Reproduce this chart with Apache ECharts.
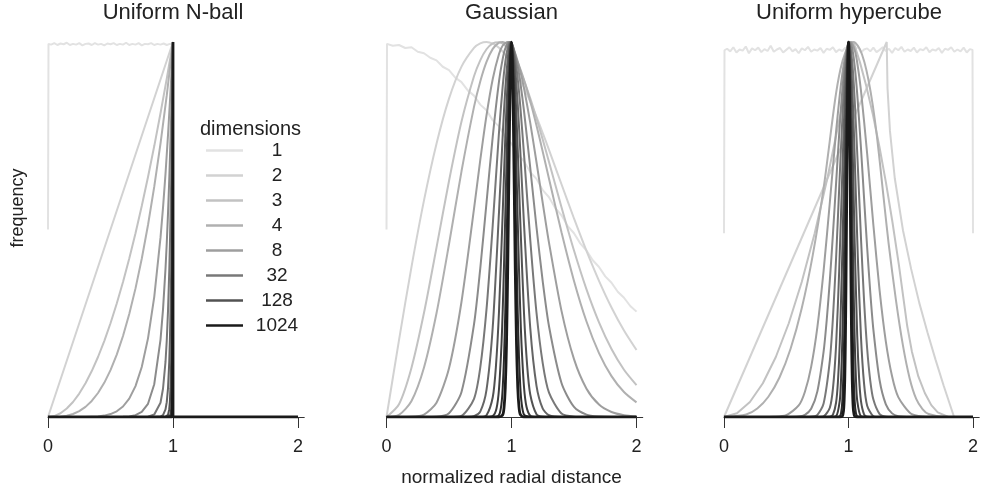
<!DOCTYPE html>
<html>
<head>
<meta charset="utf-8">
<script src="https://cdn.jsdelivr.net/npm/echarts@6/dist/echarts.min.js"></script>
<style>html,body{margin:0;padding:0;background:#fff}#c{width:981px;height:492px}</style>
</head>
<body>
<div id="c"></div>
<script>
// ---- data ----
const dims = [1, 2, 3, 4, 8, 16, 32, 64, 128, 256, 512, 1024];
const legendDims = ['1', '2', '3', '4', '8', '32', '128', '1024'];
const panelTitles = ['Uniform N-ball', 'Gaussian', 'Uniform hypercube'];
const xTicks = [0, 1, 2];
const xLabel = 'normalized radial distance';
const yLabel = 'frequency';
const legendTitle = 'dimensions';

// Uniform N-ball  [x, y]
const ballD1 = [[0,.5],[.004,.995],[.025,.993],[.05,.997],[.075,.992],[.1,.996],[.125,.994],[.15,.998],[.175,.992],[.2,.995],[.225,.993],[.25,.997],[.275,.991],[.3,.995],[.325,.996],[.35,.992],[.375,.997],[.4,.993],[.425,.995],[.45,.991],[.475,.996],[.5,.994],[.525,.997],[.55,.992],[.575,.995],[.6,.993],[.625,.998],[.65,.992],[.675,.995],[.7,.993],[.725,.997],[.75,.991],[.775,.995],[.8,.994],[.825,.997],[.85,.992],[.875,.995],[.9,.993],[.925,.996],[.95,.992],[.975,.995],[.996,.994],[1,0],[2,0]];
const ballD2 = [[0,0],[1,1],[1,0],[2,0]];
const ballD3 = [[0,0],[.05,.0025],[.1,.01],[.15,.0225],[.2,.04],[.25,.0625],[.3,.09],[.35,.1225],[.4,.16],[.45,.2025],[.5,.25],[.55,.3025],[.6,.36],[.65,.4225],[.7,.49],[.75,.5625],[.8,.64],[.85,.7225],[.9,.81],[.95,.9025],[1,1],[1,0],[2,0]];
const ballD4 = [[0,0],[.05,.0001],[.1,.001],[.15,.0034],[.2,.008],[.25,.0156],[.3,.027],[.35,.0429],[.4,.064],[.45,.0911],[.5,.125],[.55,.1664],[.6,.216],[.65,.2746],[.7,.343],[.75,.4219],[.8,.512],[.85,.6141],[.9,.729],[.95,.8574],[1,1],[1,0],[2,0]];
const ballD8 = [[0,0],[.2,0],[.3,.0002],[.4,.0016],[.45,.0037],[.5,.0078],[.55,.0152],[.6,.028],[.65,.049],[.7,.0824],[.75,.1335],[.8,.2097],[.85,.3206],[.9,.4783],[.92,.5578],[.94,.6484],[.96,.7515],[.98,.8681],[1,1],[1,0],[2,0]];
const ballD16 = [[0,0],[.5,0],[.55,.0001],[.6,.0005],[.65,.0016],[.7,.0047],[.75,.0134],[.8,.0352],[.85,.0874],[.9,.2059],[.92,.2863],[.94,.3952],[.95,.4633],[.96,.5423],[.97,.6329],[.98,.7386],[.99,.86],[1,1],[1,0],[2,0]];
const ballD32 = [[0,0],[.7,0],[.75,.0001],[.8,.001],[.85,.0065],[.9,.0381],[.92,.0754],[.94,.1468],[.95,.2039],[.96,.2823],[.97,.3885],[.975,.4564],[.98,.5347],[.985,.6262],[.99,.7323],[.995,.8562],[1,1],[1,0],[2,0]];
const ballD64 = [[0,0],[.85,0],[.9,.0013],[.92,.0052],[.94,.0202],[.95,.0395],[.96,.0765],[.97,.1464],[.975,.2031],[.98,.2801],[.985,.3862],[.99,.5309],[.9925,.6223],[.995,.7293],[.9975,.8543],[1,1],[1,0],[2,0]];
const ballD128 = [[0,0],[.92,0],[.94,.0004],[.95,.0015],[.96,.0056],[.97,.0208],[.975,.0403],[.98,.0769],[.985,.147],[.99,.2791],[.9925,.3843],[.995,.5293],[.9975,.728],[1,1],[1,0],[2,0]];
const ballD256 = [[0,0],[.96,0],[.97,.0004],[.975,.0016],[.98,.0058],[.985,.0213],[.99,.0771],[.9925,.1466],[.995,.2787],[.9975,.5286],[1,1],[1,0],[2,0]];
const ballD512 = [[0,0],[.98,0],[.985,.0004],[.99,.0059],[.9925,.0213],[.995,.0773],[.9975,.2787],[1,1],[1,0],[2,0]];
const ballD1024 = [[0,0],[.99,0],[.9925,.0005],[.995,.0059],[.9975,.0775],[1,1],[1,0],[2,0]];

// Gaussian  [x, y]
const gaussD1 = [[0,.5],[.004,.995],[.05,.99],[.1,.992],[.15,.984],[.2,.986],[.25,.974],[.3,.97],[.35,.958],[.4,.951],[.45,.934],[.5,.925],[.55,.905],[.6,.893],[.65,.871],[.7,.857],[.75,.833],[.8,.818],[.85,.791],[.9,.775],[.95,.747],[1,.729],[1.05,.701],[1.1,.682],[1.15,.653],[1.2,.635],[1.25,.605],[1.3,.586],[1.35,.557],[1.4,.538],[1.45,.509],[1.5,.49],[1.55,.463],[1.6,.444],[1.65,.418],[1.7,.4],[1.75,.375],[1.8,.358],[1.85,.334],[1.9,.318],[1.95,.296],[2,.281]];
const gaussD2 = [[0,0],[.1,.205],[.2,.4005],[.3,.5776],[.4,.7289],[.5,.849],[.6,.9344],[.7,.9844],[.75,.9963],[.8,1],[.85,.9957],[.9,.9844],[.95,.9663],[1,.9421],[1.05,.9126],[1.1,.8787],[1.15,.841],[1.2,.8003],[1.25,.7571],[1.3,.7124],[1.4,.6206],[1.5,.5294],[1.6,.4428],[1.7,.3631],[1.8,.2919],[1.9,.2305],[2,.1785]];
const gaussD3 = [[0,0],[.1,.0342],[.2,.1316],[.3,.2778],[.4,.4517],[.5,.6294],[.6,.7879],[.7,.9087],[.75,.9512],[.8,.9806],[.85,.9966],[.9,.9995],[.95,.9899],[1,.9688],[1.05,.9374],[1.1,.8973],[1.15,.8498],[1.2,.7966],[1.25,.7397],[1.3,.6802],[1.4,.5593],[1.5,.4438],[1.6,.3403],[1.7,.2524],[1.8,.1812],[1.9,.126],[2,.085]];
const gaussD4 = [[0,0],[.1,.0056],[.2,.0427],[.3,.132],[.4,.2765],[.5,.4606],[.6,.6552],[.7,.827],[.75,.8948],[.8,.9469],[.85,.9817],[.9,.9984],[.93,1],[.97,.9918],[1,.9789],[1.05,.9455],[1.1,.899],[1.15,.8421],[1.2,.7774],[1.25,.7076],[1.3,.6354],[1.4,.4925],[1.5,.3629],[1.6,.2546],[1.7,.1704],[1.8,.109],[1.9,.0667],[2,.039]];
const gaussD8 = [[0,0],[.1,0],[.2,.0005],[.3,.0066],[.4,.0382],[.5,.1298],[.6,.3074],[.7,.5551],[.75,.6847],[.8,.8042],[.85,.9014],[.9,.968],[.93,.9907],[.97,1],[1,.9909],[1.03,.9694],[1.07,.923],[1.1,.877],[1.15,.7843],[1.2,.6794],[1.25,.5705],[1.3,.4649],[1.4,.2831],[1.5,.1543],[1.6,.0756],[1.7,.0334],[1.8,.0134],[1.9,.0049],[2,.0016]];
const gaussD16 = [[0,0],[.3,0],[.4,.0007],[.5,.0102],[.6,.0669],[.7,.2468],[.75,.3959],[.8,.5713],[.85,.7478],[.9,.8947],[.93,.9557],[.95,.9826],[.98,1],[1,.9958],[1.02,.9798],[1.05,.935],[1.07,.8933],[1.1,.8163],[1.15,.6646],[1.2,.506],[1.25,.3611],[1.3,.242],[1.4,.0907],[1.5,.0269],[1.6,.0064],[1.7,.0012],[1.8,0],[2,0]];
const gaussD32 = [[0,0],[.5,0],[.6,.0032],[.7,.0485],[.75,.1317],[.8,.2869],[.85,.5121],[.9,.7594],[.93,.8836],[.95,.9454],[.97,.9849],[.99,1],[1.01,.9898],[1.03,.9557],[1.05,.9013],[1.07,.8295],[1.1,.701],[1.15,.4727],[1.2,.278],[1.25,.143],[1.3,.0648],[1.4,.0092],[1.5,.0008],[1.6,0],[2,0]];
const gaussD64 = [[0,0],[.65,0],[.7,.0019],[.75,.0145],[.8,.0724],[.85,.2399],[.9,.5462],[.93,.7536],[.95,.8728],[.97,.9574],[.98,.9837],[.99,.9975],[1,.9995],[1.01,.9875],[1.02,.9641],[1.03,.9295],[1.05,.8336],[1.07,.7121],[1.1,.5144],[1.15,.2377],[1.2,.0832],[1.25,.0223],[1.3,.0046],[1.4,0],[2,0]];
const gaussD128 = [[0,0],[.75,0],[.8,.0046],[.85,.0526],[.875,.1331],[.9,.2815],[.93,.547],[.95,.7429],[.97,.9046],[.98,.9602],[.99,.9924],[1,1],[1.01,.9819],[1.02,.9406],[1.03,.8788],[1.05,.7125],[1.07,.5242],[1.1,.2768],[1.125,.1385],[1.15,.0601],[1.2,.0075],[1.25,.0005],[1.3,0],[2,0]];
const gaussD256 = [[0,0],[.8,0],[.85,.0025],[.88,.0229],[.9,.0747],[.92,.1941],[.93,.2876],[.94,.4034],[.95,.5358],[.96,.6745],[.97,.8049],[.98,.9113],[.99,.9794],[1,1],[1.01,.9697],[1.02,.8941],[1.03,.7843],[1.04,.6546],[1.05,.5201],[1.06,.3937],[1.07,.2839],[1.08,.1952],[1.1,.0801],[1.12,.0273],[1.15,.0038],[1.2,0],[2,0]];
const gaussD512 = [[0,0],[.85,0],[.9,.0053],[.92,.036],[.93,.0795],[.94,.1575],[.95,.2794],[.96,.4453],[.97,.638],[.98,.8223],[.99,.9548],[1,1],[1.01,.9453],[1.02,.8077],[1.03,.6243],[1.04,.4369],[1.05,.277],[1.06,.1594],[1.07,.0833],[1.08,.0395],[1.1,.0067],[1.15,0],[2,0]];
const gaussD1024 = [[0,0],[.9,0],[.93,.0061],[.94,.024],[.95,.0759],[.96,.194],[.97,.4003],[.98,.6687],[.99,.9068],[1,1],[1.01,.8986],[1.02,.6594],[1.03,.3959],[1.04,.1948],[1.05,.0788],[1.06,.0262],[1.07,.0072],[1.1,0],[2,0]];

// Uniform hypercube  [x, y]
const cubeD1 = [[0,.49],[.004,.978],[.025,.982],[.05,.975],[.075,.986],[.1,.972],[.125,.98],[.15,.977],[.175,.988],[.2,.97],[.225,.983],[.25,.978],[.275,.985],[.3,.973],[.325,.981],[.35,.976],[.375,.99],[.4,.974],[.425,.98],[.45,.984],[.475,.972],[.5,.979],[.525,.986],[.55,.975],[.575,.981],[.6,.97],[.625,.983],[.65,.978],[.675,.987],[.7,.974],[.725,.98],[.75,.977],[.775,.984],[.8,.971],[.825,.982],[.85,.979],[.875,.986],[.9,.973],[.925,.98],[.95,.976],[.975,.985],[1,.974],[1.025,.981],[1.05,.977],[1.075,.988],[1.1,.972],[1.125,.98],[1.15,.983],[1.175,.975],[1.2,.985],[1.225,.973],[1.25,.979],[1.275,.986],[1.3,.976],[1.325,.982],[1.35,.971],[1.375,.984],[1.4,.978],[1.425,.987],[1.45,.974],[1.475,.98],[1.5,.976],[1.525,.985],[1.55,.972],[1.575,.981],[1.6,.978],[1.625,.986],[1.65,.973],[1.675,.98],[1.7,.977],[1.725,.984],[1.75,.971],[1.775,.982],[1.8,.979],[1.825,.986],[1.85,.974],[1.875,.98],[1.9,.975],[1.925,.985],[1.95,.972],[1.975,.981],[1.996,.979],[2,.49]];
const cubeD2 = [[0,0],[1.307,1],[1.3134,.877],[1.333,.763],[1.372,.636],[1.4375,.498],[1.503,.395],[1.568,.305],[1.634,.226],[1.699,.153],[1.764,.084],[1.83,.018],[1.848,0],[2,0]];
const cubeD3 = [[0,0],[.1041,.01],[.2081,.04],[.3122,.09],[.4163,.16],[.5204,.25],[.6244,.36],[.7285,.49],[.8326,.64],[.9366,.81],[1.0407,1],[1.0927,.945],[1.1448,.88],[1.1968,.805],[1.2488,.72],[1.3009,.625],[1.3529,.52],[1.405,.405],[1.4717,.2426],[1.509,.1749],[1.561,.1082],[1.613,.064],[1.665,.0316],[1.717,.0122],[1.8025,0],[2,0]];
const cubeD4 = [[0,0],[.178,.0067],[.2674,.0228],[.3565,.054],[.4457,.1054],[.5348,.182],[.6239,.2892],[.713,.4318],[.8021,.6148],[.8913,.8433],[.9348,.9266],[.9763,.9737],[1.0162,.9964],[1.035,1],[1.0545,.9981],[1.0915,.9811],[1.1274,.9468],[1.162,.8961],[1.1957,.8297],[1.2285,.7483],[1.2604,.6525],[1.2915,.5553],[1.3219,.4637],[1.3808,.3122],[1.4372,.1909],[1.4914,.1029],[1.5438,.0483],[1.5944,.0213],[1.6434,.0081],[1.7825,0],[2,0]];
const cubeD8 = [[0,0],[.3,0],[.4,.0005],[.5,.0047],[.6,.0307],[.65,.0673],[.7,.1337],[.75,.2398],[.8,.3896],[.85,.572],[.9,.7602],[.93,.8593],[.95,.914],[.97,.9567],[.99,.9855],[1.02,1],[1.05,.9784],[1.07,.9453],[1.1,.8711],[1.15,.7017],[1.2,.5113],[1.25,.3371],[1.3,.2011],[1.35,.1085],[1.4,.053],[1.5,.0094],[1.6,.0011],[1.7,0],[2,0]];
const cubeD16 = [[0,0],[.5,0],[.6,.0012],[.65,.0058],[.7,.0219],[.75,.0683],[.8,.1743],[.825,.2581],[.85,.3638],[.875,.4876],[.9,.6217],[.93,.7791],[.95,.87],[.97,.941],[.99,.9857],[1.01,1],[1.03,.9825],[1.05,.935],[1.07,.8617],[1.1,.718],[1.125,.5837],[1.15,.4514],[1.175,.3321],[1.2,.2324],[1.25,.098],[1.3,.0338],[1.35,.0096],[1.4,.0022],[1.5,0],[2,0]];
const cubeD32 = [[0,0],[.65,0],[.7,.0006],[.75,.0058],[.8,.0359],[.85,.1503],[.875,.2645],[.9,.4212],[.925,.6073],[.95,.7921],[.97,.9118],[.99,.9845],[1,.9987],[1.01,.9971],[1.03,.9474],[1.05,.8444],[1.075,.6684],[1.1,.4788],[1.125,.3104],[1.15,.182],[1.175,.0966],[1.2,.0464],[1.25,.0079],[1.3,.0009],[1.35,0],[2,0]];
const cubeD64 = [[0,0],[.75,0],[.8,.0015],[.85,.0248],[.875,.0757],[.9,.1891],[.925,.3872],[.95,.6488],[.96,.7541],[.97,.8488],[.98,.9255],[.99,.9772],[1,.9994],[1.01,.9898],[1.02,.9495],[1.03,.8821],[1.04,.7937],[1.05,.6917],[1.075,.4263],[1.1,.2151],[1.125,.0888],[1.15,.0301],[1.2,.0019],[1.25,0],[2,0]];
const cubeD128 = [[0,0],[.8,0],[.85,.0007],[.875,.0062],[.9,.038],[.915,.0935],[.93,.1989],[.95,.4346],[.96,.5835],[.97,.7349],[.98,.8682],[.99,.962],[1,.9997],[1.01,.9744],[1.02,.8908],[1.03,.7638],[1.04,.6142],[1.05,.4633],[1.07,.2175],[1.085,.1042],[1.1,.0432],[1.125,.0072],[1.15,.0008],[1.2,0],[2,0]];
const cubeD256 = [[0,0],[.85,0],[.9,.0017],[.93,.0435],[.94,.0999],[.95,.2019],[.96,.3592],[.97,.5623],[.98,.7741],[.99,.938],[1,1],[1.01,.938],[1.02,.7741],[1.03,.5623],[1.04,.3592],[1.05,.2019],[1.06,.0999],[1.07,.0435],[1.1,.0017],[1.15,0],[2,0]];
const cubeD512 = [[0,0],[.9,0],[.93,.0019],[.94,.01],[.95,.0408],[.96,.1289],[.97,.3158],[.98,.5992],[.99,.8798],[1,1],[1.01,.8798],[1.02,.5992],[1.03,.3158],[1.04,.1289],[1.05,.0408],[1.06,.01],[1.07,.0019],[1.1,0],[2,0]];
const cubeD1024 = [[0,0],[.93,0],[.95,.0017],[.96,.0167],[.965,.0439],[.97,.1],[.975,.2021],[.98,.3592],[.985,.5623],[.99,.7743],[1,1],[1.01,.7743],[1.015,.5623],[1.02,.3592],[1.025,.2021],[1.03,.1],[1.035,.0439],[1.04,.0167],[1.05,.0017],[1.07,0],[2,0]];

const ballData = [ballD1, ballD2, ballD3, ballD4, ballD8, ballD16, ballD32, ballD64, ballD128, ballD256, ballD512, ballD1024];
const gaussData = [gaussD1, gaussD2, gaussD3, gaussD4, gaussD8, gaussD16, gaussD32, gaussD64, gaussD128, gaussD256, gaussD512, gaussD1024];
const cubeData = [cubeD1, cubeD2, cubeD3, cubeD4, cubeD8, cubeD16, cubeD32, cubeD64, cubeD128, cubeD256, cubeD512, cubeD1024];

// ---- style / layout ----
const FONT = '"Liberation Sans", Arial, Helvetica, sans-serif';
const shades = ['#e2e2e2','#d2d2d2','#c2c2c2','#b0b0b0','#9e9e9e','#8b8b8b','#787878','#656565','#525252','#3e3e3e','#2b2b2b','#1a1a1a'];
const panelLeft = [48, 386.5, 724];
const unit = 125;
const gridTop = 42, gridH = 375;
const xMax = 2.05;

const grids = panelLeft.map(l => ({ left: l, top: gridTop, width: unit * xMax, height: gridH }));
const xAxes = panelLeft.map((l, i) => ({
  gridIndex: i, type: 'value', min: 0, max: xMax, offset: 5,
  axisLine: { show: true, lineStyle: { color: '#333', width: 1 } },
  axisTick: { show: true, length: 11, customValues: xTicks, lineStyle: { color: '#333', width: 1 } },
  axisLabel: { customValues: xTicks, fontSize: 18, color: '#222', margin: 16, fontFamily: FONT },
  splitLine: { show: false }
}));
const yAxes = panelLeft.map((l, i) => ({ gridIndex: i, type: 'value', min: 0, max: 1, show: false }));

const series = [];
[ballData, gaussData, cubeData].forEach((panel, p) => {
  panel.forEach((d, k) => {
    const dim = dims[k];
    let smooth = false;
    if (p === 1 && dim >= 2) smooth = 0.25;
    if (p === 2 && dim >= 4) smooth = 0.25;
    series.push({
      type: 'line', name: String(dim), xAxisIndex: p, yAxisIndex: p,
      data: d, symbol: 'none', showSymbol: false, smooth: smooth,
      lineStyle: { color: shades[k], width: dim === 1024 ? 2.8 : 2 },
      itemStyle: { color: shades[k] },
      animation: false, silent: true
    });
  });
});

const titles = panelTitles.map((t, i) => ({
  text: t, left: panelLeft[i] + unit, top: 2, textAlign: 'center', padding: 0,
  textStyle: { fontSize: 22, fontWeight: 'normal', color: '#222', fontFamily: FONT }
}));
titles.push({ text: legendTitle, left: 250.5, top: 119, textAlign: 'center', padding: 0,
  textStyle: { fontSize: 20, fontWeight: 'normal', color: '#222', fontFamily: FONT } });
titles.push({ text: xLabel, left: panelLeft[1] + unit, top: 468, textAlign: 'center', padding: 0,
  textStyle: { fontSize: 19, fontWeight: 'normal', color: '#222', fontFamily: FONT } });

const chart = echarts.init(document.getElementById('c'), null, { renderer: 'canvas' });
chart.setOption({
  backgroundColor: '#fff',
  animation: false,
  title: titles,
  grid: grids,
  xAxis: xAxes,
  yAxis: yAxes,
  legend: {
    data: legendDims, orient: 'vertical', left: 206, top: 141, padding: 0,
    itemWidth: 37, itemHeight: 2.5, itemGap: 6, icon: 'rect', selectedMode: false,
    formatter: '{a|{name}}',
    textStyle: { color: '#222', fontFamily: FONT, fontSize: 19,
      rich: { a: { width: 58, align: 'center', fontSize: 19, lineHeight: 20, color: '#222', fontFamily: FONT } } }
  },
  graphic: [{
    type: 'text', x: 18, y: 208, rotation: Math.PI / 2,
    style: { text: yLabel, fill: '#222', font: '18px ' + FONT, textAlign: 'center', textVerticalAlign: 'middle' }
  }],
  series: series
});
</script>
</body>
</html>
